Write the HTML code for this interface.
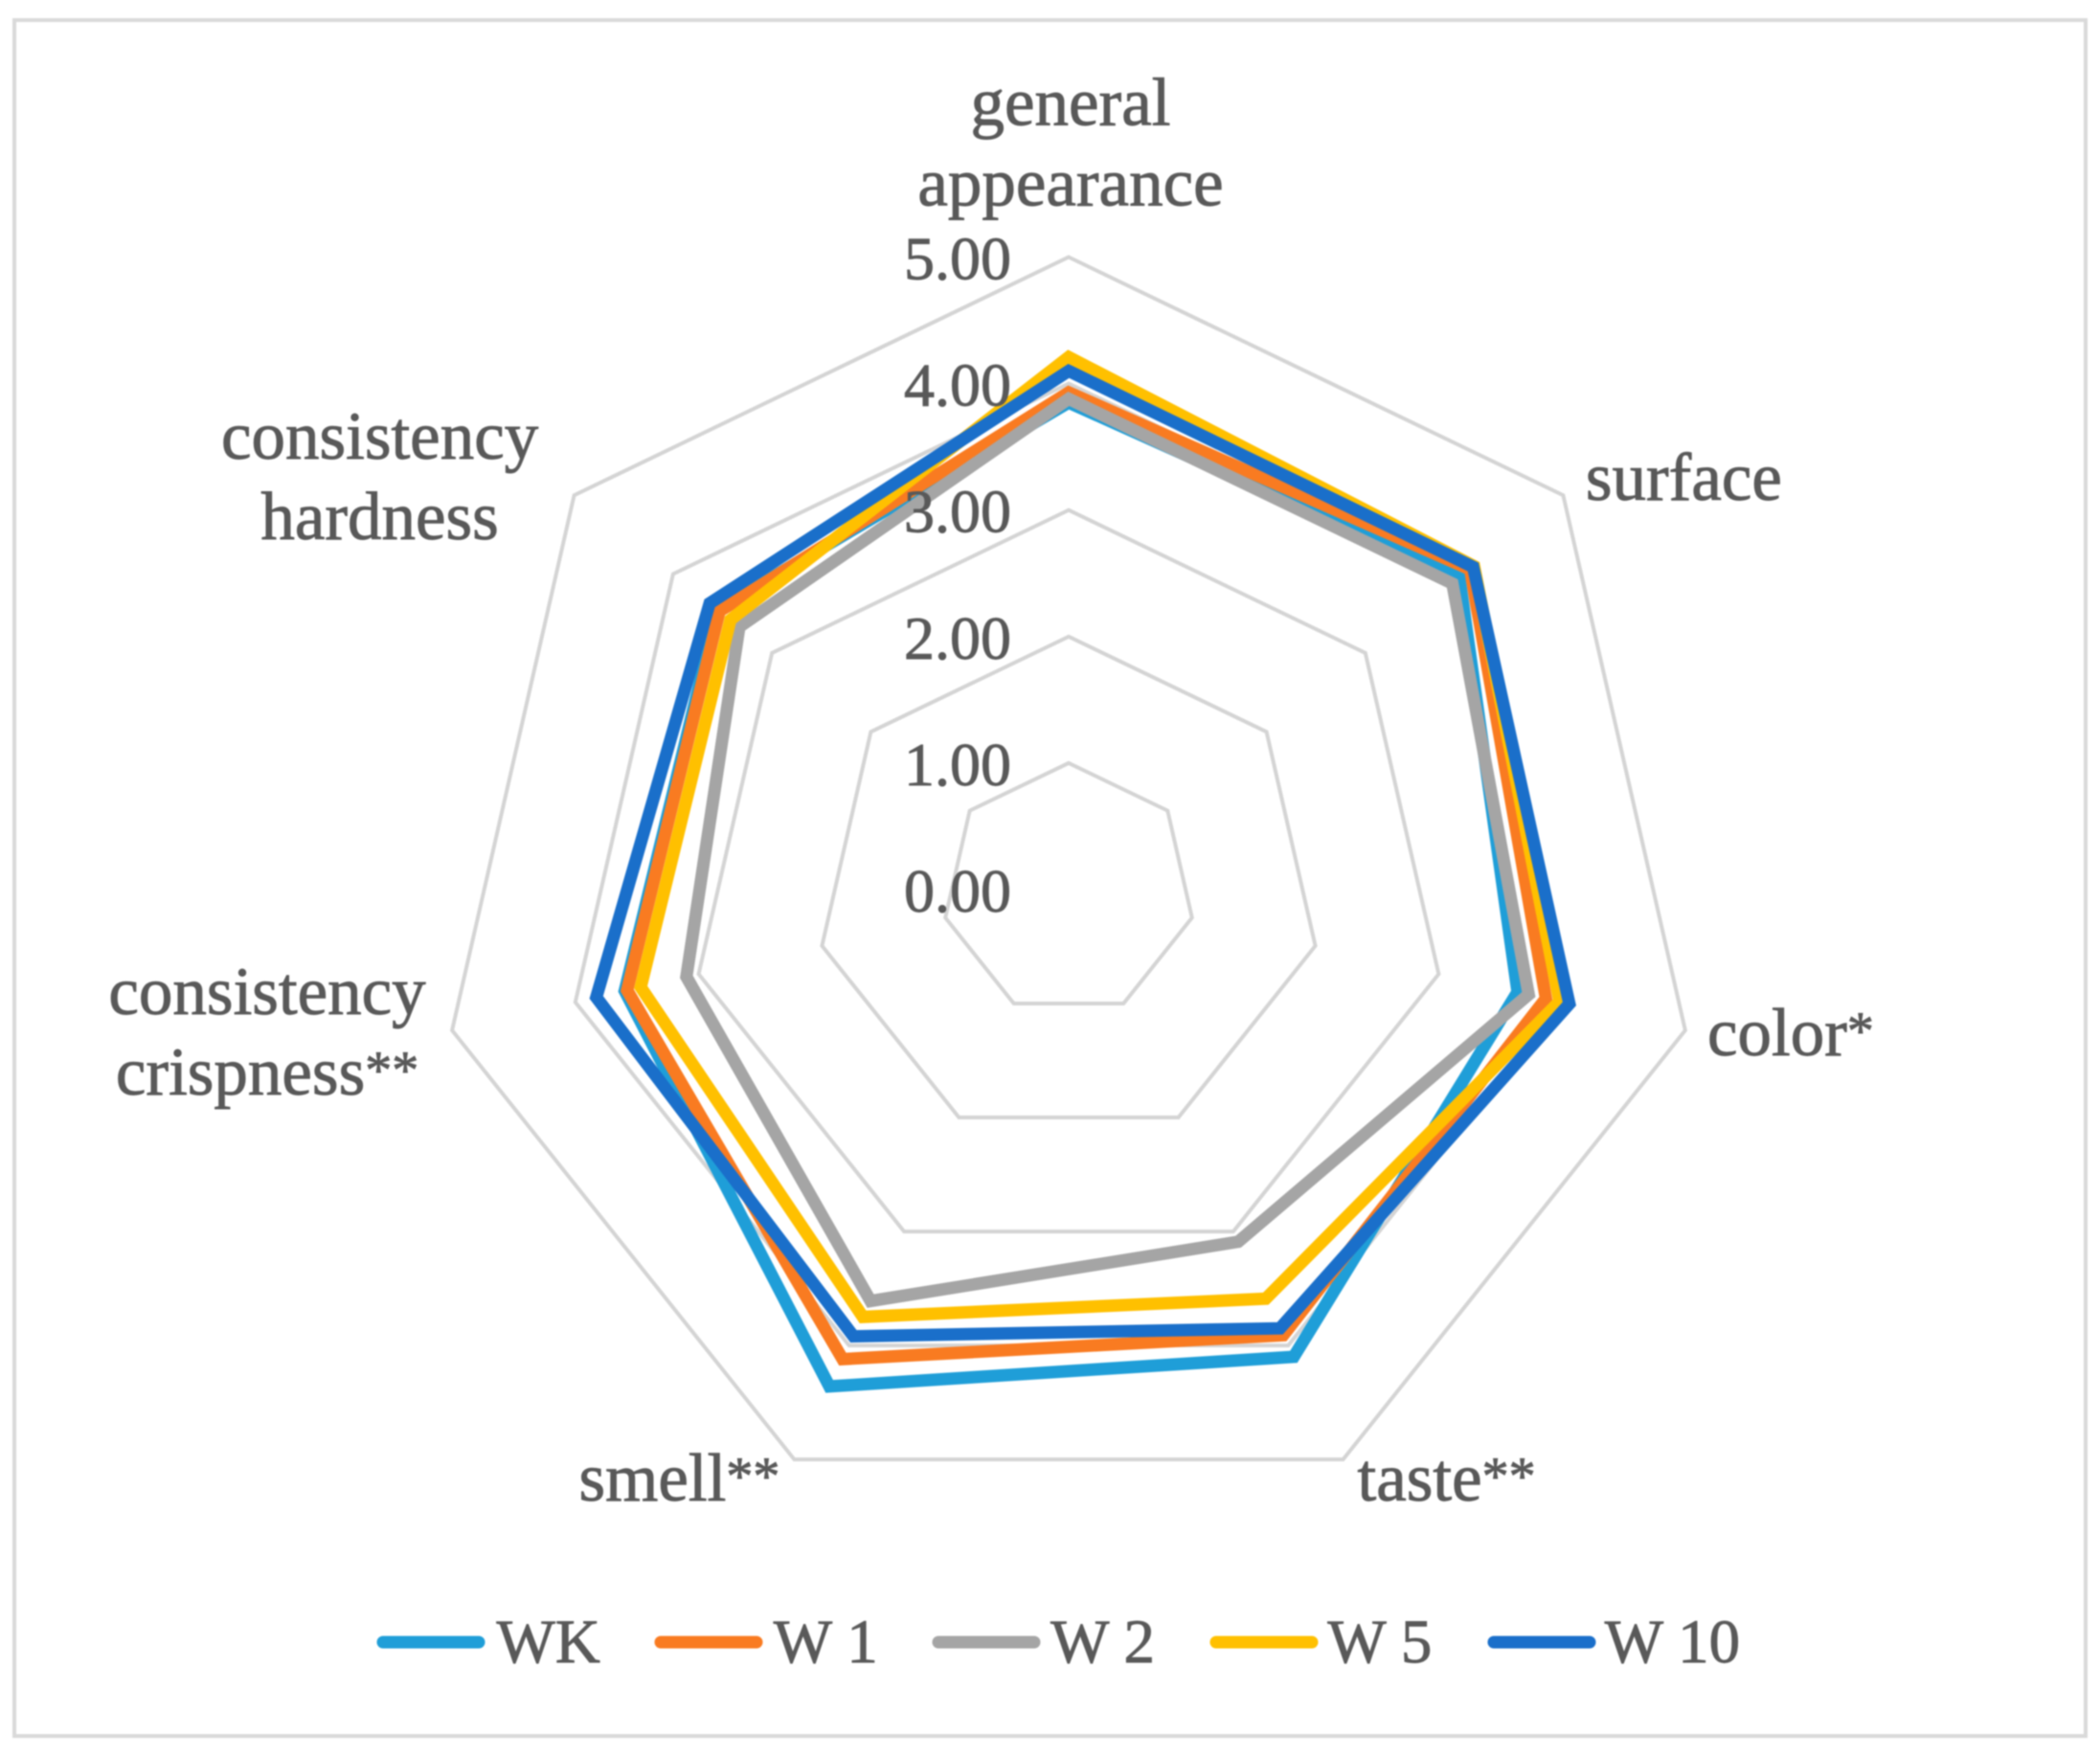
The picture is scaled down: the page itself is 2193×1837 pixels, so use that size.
<!DOCTYPE html>
<html lang="en">
<head>
<meta charset="utf-8">
<title>Radar chart of sensory scores</title>
<style>
html,body{margin:0;padding:0;background:#fff;}
body{width:2193px;height:1837px;overflow:hidden;}
svg{display:block;filter:blur(0.8px);}
text{font-family:"Liberation Serif",serif;fill:#595959;stroke:#595959;stroke-width:0.9px;}
</style>
</head>
<body>
<svg id="chart" xmlns="http://www.w3.org/2000/svg" width="2193" height="1837" viewBox="0 0 2193 1837">
<rect x="0" y="0" width="2193" height="1837" fill="#ffffff"/>
<rect x="15" y="21" width="2163" height="1792" fill="none" stroke="#d9d9d9" stroke-width="4"/>
</svg>
<script>
// ---- chart data ----
const categories = [
  ["general", "appearance"],
  ["surface"],
  ["color*"],
  ["taste**"],
  ["smell**"],
  ["consistency", "crispness**"],
  ["consistency", "hardness"]
];
const tickValues = [0, 1, 2, 3, 4, 5];
const tickLabels = ["0.00", "1.00", "2.00", "3.00", "4.00", "5.00"];
const seriesNames = ["WK", "W 1", "W 2", "W 5", "W 10"];
const seriesColors = ["#1f9ed8", "#f97b21", "#a5a5a5", "#ffc000", "#1a6fca"];
const valuesWK  = [3.85, 3.95, 3.64, 4.10, 4.36, 3.60, 3.55];
const valuesW1  = [3.93, 4.06, 3.87, 3.91, 4.12, 3.58, 3.53];
const valuesW2  = [3.88, 3.88, 3.73, 3.09, 3.61, 3.10, 3.33];
const valuesW5  = [4.21, 4.10, 3.98, 3.59, 3.75, 3.47, 3.42];
const valuesW10 = [4.10, 4.09, 4.06, 3.85, 3.92, 3.83, 3.63];
const seriesValues = [valuesWK, valuesW1, valuesW2, valuesW5, valuesW10];

// ---- layout ----
const svgNS = "http://www.w3.org/2000/svg";
const svg = document.getElementById("chart");
const centerX = 1116;
const centerY = 929;
const unitRadius = 132.1;
const labelShift = [[2,-138],[126,5],[110,26],[108,43],[-120,43],[-193,-17],[-203,-38]];

function radialX(axisIndex, value) {
  return centerX + value * unitRadius * Math.sin(2 * Math.PI * axisIndex / categories.length);
}
function radialY(axisIndex, value) {
  return centerY - value * unitRadius * Math.cos(2 * Math.PI * axisIndex / categories.length);
}
function polygonPoints(valueAt) {
  return categories.map(function (c, i) {
    return radialX(i, valueAt(i)).toFixed(1) + "," + radialY(i, valueAt(i)).toFixed(1);
  }).join(" ");
}

// gridlines
tickValues.forEach(function (tick) {
  if (tick === 0) return;
  const ring = document.createElementNS(svgNS, "polygon");
  
  
  ring.setAttribute("points", polygonPoints(function () { return tick; }));
  ring.setAttribute("fill", "none");
  ring.setAttribute("stroke", "#d4d4d4");
  ring.setAttribute("stroke-width", "4");
  svg.appendChild(ring);
});

// series
seriesValues.forEach(function (values, s) {
  const line = document.createElementNS(svgNS, "polygon");
  
  
  line.setAttribute("points", polygonPoints(function (i) { return values[i]; }));
  line.setAttribute("fill", "none");
  line.setAttribute("stroke", seriesColors[s]);
  line.setAttribute("stroke-width", "13");
  line.setAttribute("stroke-linejoin", "miter");
  svg.appendChild(line);
});

// tick labels
tickValues.forEach(function (tick, t) {
  const label = document.createElementNS(svgNS, "text");
  
  
  label.setAttribute("x", centerX - 60);
  label.setAttribute("y", radialY(0, tick) + 23);
  label.setAttribute("text-anchor", "end");
  label.setAttribute("font-size", "64");
  label.textContent = tickLabels[t];
  svg.appendChild(label);
});

// category labels (asterisks are set smaller and raised, as in the reference)
categories.forEach(function (lines, i) {
  lines.forEach(function (lineText, n) {
    const label = document.createElementNS(svgNS, "text");
    
    
    label.setAttribute("x", radialX(i, 5) + labelShift[i][0]);
    label.setAttribute("y", radialY(i, 5) + labelShift[i][1] + n * 84);
    label.setAttribute("text-anchor", "middle");
    label.setAttribute("font-size", "71");
    const word = lineText.replace(/\*+$/, "");
    const stars = lineText.slice(word.length);
    label.appendChild(document.createTextNode(word));
    if (stars) {
      const starSpan = document.createElementNS(svgNS, "tspan");
      starSpan.setAttribute("font-size", "56");
      starSpan.setAttribute("dy", "-7");
      starSpan.textContent = stars;
      label.appendChild(starSpan);
    }
    svg.appendChild(label);
  });
});

// legend
seriesNames.forEach(function (name, s) {
  const keyStart = 394 + s * 290;
  const textStart = 518.5 + s * 289.3;
  const key = document.createElementNS(svgNS, "line");
  
  
  key.setAttribute("x1", keyStart + 6);
  key.setAttribute("x2", keyStart + 106);
  key.setAttribute("y1", 1715);
  key.setAttribute("y2", 1715);
  key.setAttribute("stroke", seriesColors[s]);
  key.setAttribute("stroke-width", "13");
  key.setAttribute("stroke-linecap", "round");
  svg.appendChild(key);

  const label = document.createElementNS(svgNS, "text");
  
  
  label.setAttribute("x", textStart);
  label.setAttribute("y", 1736);
  label.setAttribute("font-size", "65");
  label.textContent = name;
  svg.appendChild(label);
});
</script>
</body>
</html>
